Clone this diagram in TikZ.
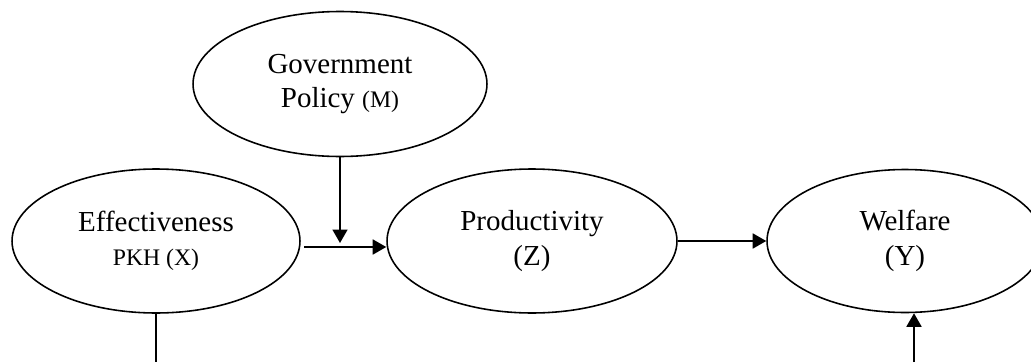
\documentclass[tikz,border=0pt]{standalone}
\usepackage{fontspec}
\setmainfont{Liberation Serif}
\usetikzlibrary{arrows.meta,positioning,calc,shapes.geometric}

\tikzset{
  var/.style={ellipse,draw,line width=0.9pt,inner sep=0pt,align=center,font=\fontsize{16.5}{19.5}\selectfont},
  arr/.style={-{Triangle[length=0.27cm,width=0.3cm]},line width=1pt},
  plain/.style={line width=1pt},
}
\newcommand{\smalltxt}[1]{{\fontsize{13.5}{17}\selectfont #1}}

\begin{document}
\begin{tikzpicture}[x=0.02cm,y=-0.02cm]
  \useasboundingbox (0,0) rectangle (1031,362);
  \node[var,minimum width=5.88cm,minimum height=2.9cm] (gov) at (340,84) {Government\\Policy \smalltxt{(M)}};
  \node[var,minimum width=5.76cm,minimum height=2.88cm] (eff) at (156,241) {Effectiveness\\\smalltxt{PKH (X)}};
  \node[var,minimum width=5.8cm,minimum height=2.88cm] (prod) at (532,241) {Productivity\\(Z)};
  \node[var,minimum width=5.52cm,minimum height=2.86cm] (welf) at (905,241) {Welfare\\(Y)};

  \coordinate (mx) at (304,247);
  \coordinate (mod) at (340,247);
  \coordinate (ex) at (156,362);
  \coordinate (wy) at (914,362);

  \draw[arr] (mx) -- (mx -| prod.west);
  \draw[arr,shorten >=0.08cm] (gov.south) -- (mod);
  \draw[arr] (prod) -- (welf);
  \draw[plain] (eff.south) -- (ex);
  \draw[arr] (wy) -- (wy |- welf.south);
\end{tikzpicture}
\end{document}
